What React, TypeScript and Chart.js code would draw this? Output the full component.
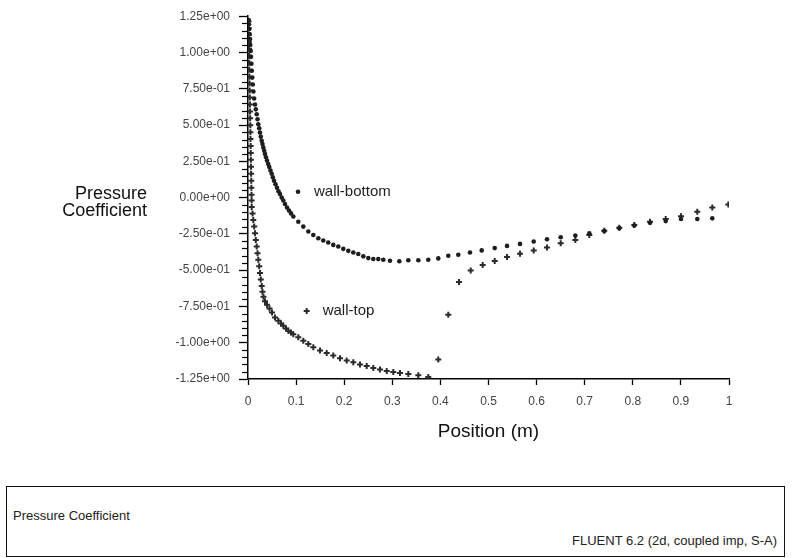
import React, { useEffect, useRef } from 'react';
import { Chart, registerables } from 'chart.js';

Chart.register(...registerables);

// ---------- data ----------
const seriesNames = ['wall-bottom', 'wall-top'];

const wallBottomX = [
  0.0015, 0.0021, 0.0027, 0.0033, 0.0042, 0.0048, 0.0056, 0.0062, 0.0071, 0.0079,
  0.0089, 0.0100, 0.0112, 0.0127, 0.0146, 0.0162, 0.0181, 0.0198, 0.0214, 0.0233,
  0.0249, 0.0266, 0.0285, 0.0301, 0.0318, 0.0337, 0.0353, 0.0374, 0.0395, 0.0420,
  0.0443, 0.0468, 0.0493, 0.0516, 0.0541, 0.0572, 0.0603, 0.0634, 0.0665, 0.0701,
  0.0734, 0.0769, 0.0811, 0.0852, 0.0894, 0.0942, 0.1046, 0.1150, 0.1254, 0.1358,
  0.1462, 0.1565, 0.1669, 0.1773, 0.1877, 0.1981, 0.2085, 0.2189, 0.2293, 0.2397,
  0.2501, 0.2605, 0.2709, 0.2813, 0.2952, 0.3146, 0.3333, 0.3541, 0.3748, 0.3956,
  0.4164, 0.4372, 0.4615, 0.4859, 0.5129, 0.5385, 0.5655, 0.5940, 0.6216, 0.6501,
  0.6805, 0.7096, 0.7407, 0.7719, 0.8031, 0.8358, 0.8684, 0.9002, 0.9341, 0.9653,
];
const wallBottomY = [
  1.223, 1.195, 1.161, 1.127, 1.093, 1.052, 1.011, 0.970, 0.922, 0.874,
  0.827, 0.779, 0.731, 0.683, 0.642, 0.608, 0.574, 0.540, 0.505, 0.478,
  0.449, 0.420, 0.391, 0.369, 0.346, 0.323, 0.301, 0.278, 0.255, 0.232,
  0.210, 0.186, 0.164, 0.140, 0.116, 0.092, 0.068, 0.044, 0.024, 0.000,
  -0.020, -0.044, -0.068, -0.089, -0.109, -0.130, -0.166, -0.200, -0.234, -0.258,
  -0.280, -0.296, -0.309, -0.326, -0.337, -0.353, -0.367, -0.378, -0.389, -0.405,
  -0.417, -0.423, -0.423, -0.428, -0.435, -0.439, -0.432, -0.432, -0.428, -0.419,
  -0.401, -0.394, -0.378, -0.364, -0.348, -0.333, -0.319, -0.303, -0.287, -0.273,
  -0.262, -0.246, -0.230, -0.212, -0.193, -0.174, -0.162, -0.147, -0.147, -0.143,
];

const wallTopX = [
  0.0010, 0.0012, 0.0015, 0.0017, 0.0020, 0.0023, 0.0025, 0.0027, 0.0030, 0.0032,
  0.0035, 0.0037, 0.0040, 0.0043, 0.0045, 0.0048, 0.0050, 0.0052, 0.0055, 0.0057,
  0.0060, 0.0062, 0.0065, 0.0068, 0.0070, 0.0073, 0.0075, 0.0077, 0.0094, 0.0110,
  0.0129, 0.0146, 0.0162, 0.0181, 0.0198, 0.0214, 0.0233, 0.0249, 0.0266, 0.0285,
  0.0301, 0.0322, 0.0353, 0.0395, 0.0447, 0.0499, 0.0561, 0.0630, 0.0686, 0.0734,
  0.0790, 0.0838, 0.0894, 0.0942, 0.1046, 0.1150, 0.1254, 0.1358, 0.1497, 0.1636,
  0.1773, 0.1913, 0.2052, 0.2189, 0.2328, 0.2468, 0.2605, 0.2744, 0.2884, 0.3021,
  0.3160, 0.3333, 0.3541, 0.3748, 0.3956, 0.4164, 0.4387, 0.4630, 0.4879, 0.5129,
  0.5385, 0.5655, 0.5940, 0.6216, 0.6501, 0.6805, 0.7096, 0.7407, 0.7719, 0.8031,
  0.8358, 0.8684, 0.9002, 0.9341, 0.9653, 0.9986,
];
const wallTopY = [
  1.216, 1.168, 1.120, 1.072, 1.025, 0.977, 0.929, 0.881, 0.833, 0.786,
  0.738, 0.690, 0.642, 0.594, 0.546, 0.499, 0.451, 0.403, 0.355, 0.307,
  0.260, 0.212, 0.164, 0.116, 0.068, 0.020, -0.020, -0.064, -0.109, -0.155,
  -0.200, -0.246, -0.292, -0.337, -0.383, -0.428, -0.473, -0.519, -0.565, -0.610,
  -0.649, -0.683, -0.714, -0.738, -0.765, -0.792, -0.827, -0.849, -0.867, -0.883,
  -0.902, -0.917, -0.929, -0.941, -0.963, -0.986, -1.009, -1.031, -1.054, -1.070,
  -1.088, -1.107, -1.122, -1.134, -1.150, -1.161, -1.175, -1.184, -1.195, -1.202,
  -1.209, -1.216, -1.225, -1.236, -1.115, -0.808, -0.581, -0.503, -0.464, -0.437,
  -0.410, -0.387, -0.364, -0.344, -0.314, -0.292, -0.258, -0.228, -0.208, -0.188,
  -0.167, -0.147, -0.128, -0.098, -0.068, -0.048,
];

const xTickValues = [0, 0.1, 0.2, 0.3, 0.4, 0.5, 0.6, 0.7, 0.8, 0.9, 1];
const xTickLabels = ['0', '0.1', '0.2', '0.3', '0.4', '0.5', '0.6', '0.7', '0.8', '0.9', '1'];
const yTickValues = [-1.25, -1, -0.75, -0.5, -0.25, 0, 0.25, 0.5, 0.75, 1, 1.25];
const yTickLabels = [
  '-1.25e+00', '-1.00e+00', '-7.50e-01', '-5.00e-01', '-2.50e-01', '0.00e+00',
  '2.50e-01', '5.00e-01', '7.50e-01', '1.00e+00', '1.25e+00',
];
const yMinorStep = 0.05;

const xTitle = 'Position (m)';
const yTitleLines = ['Pressure', 'Coefficient'];
const footerLeft = 'Pressure Coefficient';
const footerRight = 'FLUENT 6.2 (2d, coupled imp, S-A)';

// ---------- styling / placement ----------
const FONT = '"Liberation Sans", Arial, Helvetica, sans-serif';
const INK = '#1d1d1d';
const legendAnchors = [
  { x: 0.104, y: 0.04 },
  { x: 0.122, y: -0.781 },
];

function drawMarker(ctx: CanvasRenderingContext2D, kind: number, px: number, py: number) {
  ctx.save();
  if (kind === 0) {
    ctx.fillStyle = INK;
    ctx.beginPath();
    ctx.arc(px, py, 2.3, 0, Math.PI * 2);
    ctx.fill();
  } else {
    ctx.strokeStyle = '#2b2b2b';
    ctx.lineWidth = 2;
    ctx.beginPath();
    ctx.moveTo(px - 3, py);
    ctx.lineTo(px + 3, py);
    ctx.moveTo(px, py - 3);
    ctx.lineTo(px, py + 3);
    ctx.stroke();
  }
  ctx.restore();
}

const decorations = {
  id: 'decorations',
  afterDraw(chart: any) {
    const ctx: CanvasRenderingContext2D = chart.ctx;
    const xs = chart.scales.x;
    const ys = chart.scales.y;
    ctx.save();
    // minor ticks on the y axis
    ctx.strokeStyle = '#000';
    ctx.lineWidth = 1.2;
    const n = Math.round((ys.max - ys.min) / yMinorStep);
    for (let i = 0; i <= n; i++) {
      if (i % 5 === 0) continue;
      const v = ys.min + i * yMinorStep;
      const py = Math.round(ys.getPixelForValue(v)) + 0.5;
      ctx.beginPath();
      ctx.moveTo(chart.chartArea.left - 6, py);
      ctx.lineTo(chart.chartArea.left, py);
      ctx.stroke();
    }
    // y title (horizontal, two lines)
    ctx.fillStyle = '#111';
    ctx.font = `18px ${FONT}`;
    ctx.textAlign = 'right';
    ctx.textBaseline = 'middle';
    const y0 = ys.getPixelForValue(0);
    ctx.fillText(yTitleLines[0], 147, y0 - 4);
    ctx.fillText(yTitleLines[1], 147, y0 + 13);
    // in-plot series labels
    ctx.font = `15px ${FONT}`;
    ctx.textAlign = 'left';
    ctx.fillStyle = '#222';
    legendAnchors.forEach((a, k) => {
      const px = xs.getPixelForValue(a.x);
      const py = ys.getPixelForValue(a.y);
      drawMarker(ctx, k, px, py);
      ctx.fillText(seriesNames[k], px + 16, py);
    });
    ctx.restore();
  },
};

export default function App() {
  const ref = useRef<HTMLCanvasElement | null>(null);

  useEffect(() => {
    document.body.style.margin = '0';
    const canvas = ref.current;
    if (!canvas) return;
    const chart = new Chart(canvas, {
      type: 'scatter',
      data: {
        datasets: [
          {
            label: seriesNames[0],
            data: wallBottomX.map((x, i) => ({ x, y: wallBottomY[i] })),
            pointStyle: 'circle',
            pointRadius: 2.3,
            pointBackgroundColor: INK,
            pointBorderWidth: 0,
            showLine: false,
          },
          {
            label: seriesNames[1],
            data: wallTopX.map((x, i) => ({ x, y: wallTopY[i] })),
            pointStyle: 'cross',
            pointRadius: 3,
            pointBorderColor: '#2b2b2b',
            pointBorderWidth: 2,
            showLine: false,
          },
        ],
      },
      options: {
        animation: false,
        responsive: false,
        devicePixelRatio: 1,
        layout: { padding: { left: 0, right: 66, top: 12, bottom: 0 } },
        plugins: { legend: { display: false }, tooltip: { enabled: false } },
        scales: {
          x: {
            type: 'linear',
            min: 0,
            max: 1,
            afterFit: (s: any) => { s.height = 91; },
            afterBuildTicks: (s: any) => { s.ticks = xTickValues.map((v) => ({ value: v })); },
            ticks: {
              callback: (_v: any, i: number) => xTickLabels[i],
              font: { family: FONT, size: 12 },
              color: '#444',
              padding: 9,
              maxRotation: 0,
              autoSkip: false,
            },
            grid: {
              display: true,
              drawOnChartArea: false,
              drawTicks: true,
              tickLength: 6,
              tickColor: '#000',
              tickWidth: 1.3,
            },
            border: { display: true, color: '#000', width: 1.5 },
            title: {
              display: true,
              text: xTitle,
              font: { family: FONT, size: 19 },
              color: '#111',
              padding: { top: 0, bottom: 27 },
            },
          },
          y: {
            type: 'linear',
            min: -1.25,
            max: 1.25,
            afterFit: (s: any) => { s.width = 248; },
            afterBuildTicks: (s: any) => { s.ticks = yTickValues.map((v) => ({ value: v })); },
            ticks: {
              callback: (_v: any, i: number) => yTickLabels[i],
              font: { family: FONT, size: 12 },
              color: '#444',
              padding: 9,
              autoSkip: false,
            },
            grid: {
              display: true,
              drawOnChartArea: false,
              drawTicks: true,
              tickLength: 9,
              tickColor: '#000',
              tickWidth: 1.3,
            },
            border: { display: true, color: '#000', width: 1.5 },
          },
        },
      },
      plugins: [decorations],
    } as any);
    return () => chart.destroy();
  }, []);

  return (
    <div style={{ position: 'relative', width: 795, height: 558, background: '#fff', overflow: 'hidden' }}>
      <canvas ref={ref} width={795} height={470} style={{ display: 'block', width: 795, height: 470 }} />
      <div
        style={{
          position: 'absolute',
          left: 6,
          top: 486,
          width: 779,
          height: 71,
          border: '1.5px solid #111',
          boxSizing: 'border-box',
          fontFamily: FONT,
          color: '#222',
        }}
      >
        <span style={{ position: 'absolute', left: 6, top: 21, fontSize: 13, whiteSpace: 'nowrap' }}>{footerLeft}</span>
        <span style={{ position: 'absolute', right: 7, top: 46, fontSize: 13, whiteSpace: 'nowrap' }}>{footerRight}</span>
      </div>
    </div>
  );
}
